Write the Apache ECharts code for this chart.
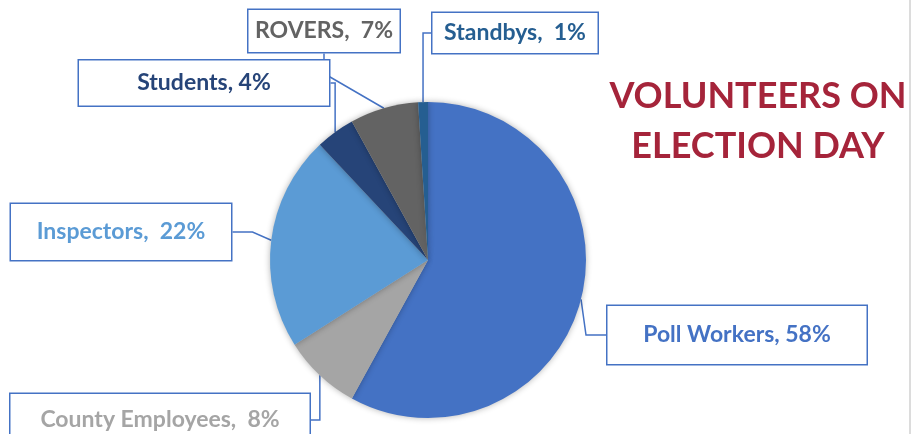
<!DOCTYPE html>
<html>
<head>
<meta charset="utf-8">
<script src="https://cdn.jsdelivr.net/npm/echarts@6/dist/echarts.min.js"></script>
<style>
html,body{margin:0;padding:0;background:#fff;}
#wrap{position:relative;width:921px;height:434px;overflow:hidden;}
#chart{position:absolute;left:0;top:0;width:921px;height:434px;}
#edge{position:absolute;left:909px;top:0;width:2px;height:434px;background:#dcdcdc;}
</style>
</head>
<body>
<div id="wrap"><div id="chart"></div><div id="edge"></div></div>
<script>
// Data
const categories = ['Poll Workers', 'County Employees', 'Inspectors', 'Students', 'ROVERS', 'Standbys'];
const values = [58, 8, 22, 4, 7, 1];
const titleText = 'VOLUNTEERS ON\nELECTION DAY';

// Styles / layout (not data)
const sliceColors = ['#4472C4', '#A5A5A5', '#5B9BD5', '#264478', '#636363', '#255E91'];
const labelColors = ['#4472C4', '#A5A5A5', '#5B9BD5', '#264478', '#636363', '#255E91'];
const separators = [', ', ',  ', ',  ', ', ', ',  ', ',  '];
// label box: center x, center y, width, height
const boxes = [
  [737, 335, 259, 58],
  [160, 420, 299, 52],
  [121, 232, 220, 56],
  [204, 83, 250, 45],
  [324, 31, 151, 42],
  [515, 33, 165, 40]
];

const chart = echarts.init(document.getElementById('chart'), null, {renderer: 'canvas'});
const fontFamily = 'Lato, "Open Sans", "Liberation Sans", sans-serif';

const data = categories.map((name, i) => ({
  name: name,
  value: values[i],
  itemStyle: {color: sliceColors[i]},
  label: {
    formatter: '{b}' + separators[i] + '{d}%',
    color: labelColors[i],
    width: boxes[i][2],
    height: boxes[i][3],
    lineHeight: boxes[i][3]
  }
}));

chart.setOption({
  animation: false,
  backgroundColor: '#ffffff',
  title: {
    text: titleText,
    left: 753,
    top: 66,
    textAlign: 'center',
    textStyle: {
      color: '#A5243A',
      fontSize: 36,
      fontWeight: 'bold',
      fontFamily: fontFamily,
      lineHeight: 50
    }
  },
  series: [{
    type: 'pie',
    center: [428, 260],
    radius: 158,
    startAngle: 90,
    clockwise: true,
    avoidLabelOverlap: false,
    itemStyle: {
      borderWidth: 0,
      shadowBlur: 6,
      shadowColor: 'rgba(0,0,0,0.3)'
    },
    label: {
      show: true,
      position: 'outside',
      fontSize: 23,
      fontWeight: 'bold',
      fontFamily: fontFamily,
      align: 'center',
      verticalAlign: 'middle',
      backgroundColor: '#ffffff',
      borderColor: '#4472C4',
      borderWidth: 1.5,
      padding: 0
    },
    labelLine: {
      show: true,
      length: 20,
      length2: 20,
      lineStyle: {color: '#4472C4', width: 1.5}
    },
    labelLayout: function (params) {
      const b = boxes[params.dataIndex];
      return {
        x: b[0],
        y: b[1],
        align: 'center',
        verticalAlign: 'middle'
      };
    },
    emphasis: {disabled: true},
    data: data
  }]
});
</script>
</body>
</html>
